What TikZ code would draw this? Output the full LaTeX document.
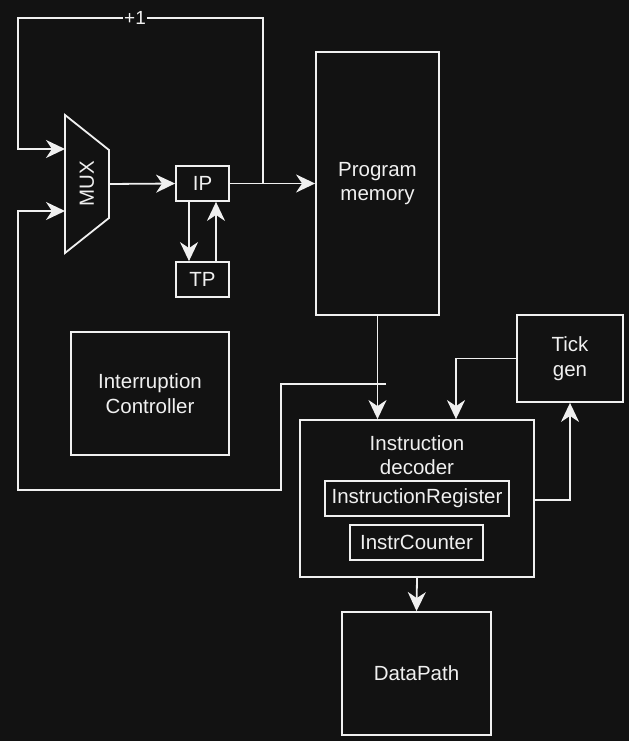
\documentclass[tikz,border=0pt]{standalone}
\usepackage{fontspec}
\setmainfont{Liberation Sans}
\usetikzlibrary{arrows.meta}
\definecolor{bg}{RGB}{18,18,18}
\definecolor{fg}{RGB}{240,240,240}
\tikzset{
  box/.style={draw=fg, line width=1.8pt, rectangle, inner sep=0pt, text=fg, align=center,
    font=\fontsize{20.5}{24.5}\selectfont},
  lbl/.style={text=fg, align=center, inner sep=0pt, font=\fontsize{20.5}{24.5}\selectfont},
  wire/.style={draw=fg, line width=1.8pt},
  arr/.style={wire, -{Stealth[length=19pt,width=18pt,inset=6pt]}},
}
\begin{document}
\begin{tikzpicture}[x=1pt,y=-1pt]
\fill[bg] (0,0) rectangle (629,741);
\useasboundingbox (0,0) rectangle (629,741);

% MUX
\draw[wire, line join=miter] (65,115) -- (109,150) -- (109,218) -- (65,253) -- cycle;
\node[lbl, rotate=90] (mux) at (87,184) {MUX};
\coordinate (muxin1) at (65,149);
\coordinate (muxin2) at (65,211);
\coordinate (muxout) at (109,184);

% boxes
\node[box, minimum width=53pt, minimum height=35pt] (ip) at (202.5,183.5) {IP};
\node[box, minimum width=53pt, minimum height=35pt] (tp) at (202.5,279.5) {TP};
\node[box, minimum width=123pt, minimum height=263pt] (pm) at (377.5,183.5) {Program\\memory};
\node[box, minimum width=158pt, minimum height=123pt] (ic) at (150,393.5) {Interruption\\Controller};
\node[box, minimum width=106pt, minimum height=87pt] (tick) at (570,358.5) {Tick\\gen};
\node[box, minimum width=234pt, minimum height=157pt] (dec) at (417,498.5) {};
\node[lbl] (declbl) at (417,455) {Instruction\\decoder};
\node[box, minimum width=184pt, minimum height=35pt] (ireg) at (417,498.5) {InstructionRegister};
\node[box, minimum width=133pt, minimum height=35pt] (icnt) at (416.5,542.5) {InstrCounter};
\node[box, minimum width=149pt, minimum height=123pt] (dp) at (416.5,673.5) {DataPath};

% connectors
\draw[arr] (muxout) -- (ip.west);
\draw[arr] (ip.east) -- (pm.west);
\coordinate (ltop) at (263,18);
\draw[arr] (ip.east) -| (ltop) -| (18,149) -- (muxin1);
\node[lbl, fill=bg, inner xsep=1pt, font=\fontsize{19}{22}\selectfont] (plus) at (135,18) {+1};
\draw[arr] ([xshift=-13.5pt]ip.south) -- ([xshift=-13.5pt]tp.north);
\draw[arr] ([xshift=13.5pt]tp.north) -- ([xshift=13.5pt]ip.south);
\draw[arr] (pm.south) -- (pm.south |- dec.north);
\coordinate (fb) at (386,384);
\draw[arr] (fb) -- (281,384) -- (281,490) -- (18,490) -- (18,211) -- (muxin2);
\draw[arr] (tick.west) -| ([xshift=39pt]dec.north);
\draw[arr] ([yshift=-1.5pt]dec.east) -| (tick.south);
\draw[arr] (dec.south) -- (dp.north);
\end{tikzpicture}
\end{document}
